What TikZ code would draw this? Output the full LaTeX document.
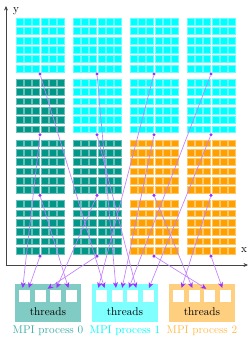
\documentclass[tikz,border=0pt]{standalone}
\usepackage{tikz}
\usetikzlibrary{arrows.meta,positioning}
\definecolor{GridTeal}{HTML}{009688}
\definecolor{GridCyan}{HTML}{00FFFF}
\definecolor{GridOrange}{HTML}{FFA000}
\definecolor{TaskViolet}{HTML}{9B30FF}
\definecolor{AxisGray}{HTML}{444444}
\tikzset{
  axis/.style={-{Stealth[length=4pt,width=3.5pt]}, line width=0.6pt, draw=AxisGray},
  cell/.style={fill=#1, draw=#1!60, line width=0.25pt},
  dot/.style={circle, fill=TaskViolet, inner sep=0pt, minimum size=3pt},
  task/.style={-{Stealth[length=5pt,width=4.5pt,color=TaskViolet]}, line width=0.6pt,
               draw=TaskViolet!60, shorten >=1.8pt},
  proc/.style={minimum width=58pt, minimum height=34pt, inner sep=0pt, fill=#1!50},
  slot/.style={fill=white, minimum width=10pt, minimum height=10.5pt, inner sep=0pt},
  plabel/.style={text=#1, inner sep=2pt},
}
\begin{document}
\begin{tikzpicture}[x=0.89pt,y=-0.89pt]
  \useasboundingbox (0,0) rectangle (252,339);
  % axes
  \coordinate (origin) at (6,265);
  \coordinate (xend) at (248,265);
  \coordinate (yend) at (6,6);
  \draw[axis] (origin) -- (xend);
  \draw[axis] (origin) -- (yend);
  \node (ylab) at (16,11) {y};
  \node (xlab) at (244,250) {x};
  % tiles, one dot per tile
  \foreach \r/\c/\col in {0/0/GridCyan, 0/1/GridCyan, 0/2/GridCyan, 0/3/GridCyan,
      1/0/GridTeal, 1/1/GridCyan, 1/2/GridCyan, 1/3/GridCyan,
      2/0/GridTeal, 2/1/GridTeal, 2/2/GridOrange, 2/3/GridOrange,
      3/0/GridTeal, 3/1/GridTeal, 3/2/GridOrange, 3/3/GridOrange}{
    \foreach \i in {0,...,5}
      \foreach \j in {0,...,5}
        \draw[cell=\col] ({15.7+57*\c+8.33*\i},{18.3+60.7*\r+9.33*\j}) rectangle ++(7,6.9);
    \node[dot] (d\r\c) at ({40+57*\c},{74+60.7*\r}) {};
  }
  % processes
  \foreach \p/\x/\col/\tc in {0/48/GridTeal/GridTeal!75, 1/125/GridCyan/GridCyan,
      2/202/GridOrange/GridOrange!70}{
    \node[proc=\col] (p\p) at (\x,303) {};
    \foreach \k in {1,...,4}
      \node[slot] (p\p-\k) at ({\x+15.5*(\k-2.5)},296) {};
    \node[above=2pt of p\p.south] (p\p-t) {threads};
    \node[plabel=\tc, below=1pt of p\p] (p\p-name) {MPI process \p};
  }
  % tile -> thread
  \foreach \src/\tgt/\dx in {10/p0-1/-2, 30/p0-1/3, 31/p0-2/5, 21/p0-3/0, 20/p0-4/-2,
      02/p1-1/-3.5, 00/p1-1/3, 01/p1-2/-1, 12/p1-2/4, 03/p1-3/-4, 11/p1-3/3.5, 13/p1-4/0,
      23/p2-1/2, 22/p2-2/-1, 32/p2-3/-1.5, 33/p2-4/-2}
    \draw[task] (d\src) -- ([xshift=\dx pt]\tgt.north);
\end{tikzpicture}
\end{document}
